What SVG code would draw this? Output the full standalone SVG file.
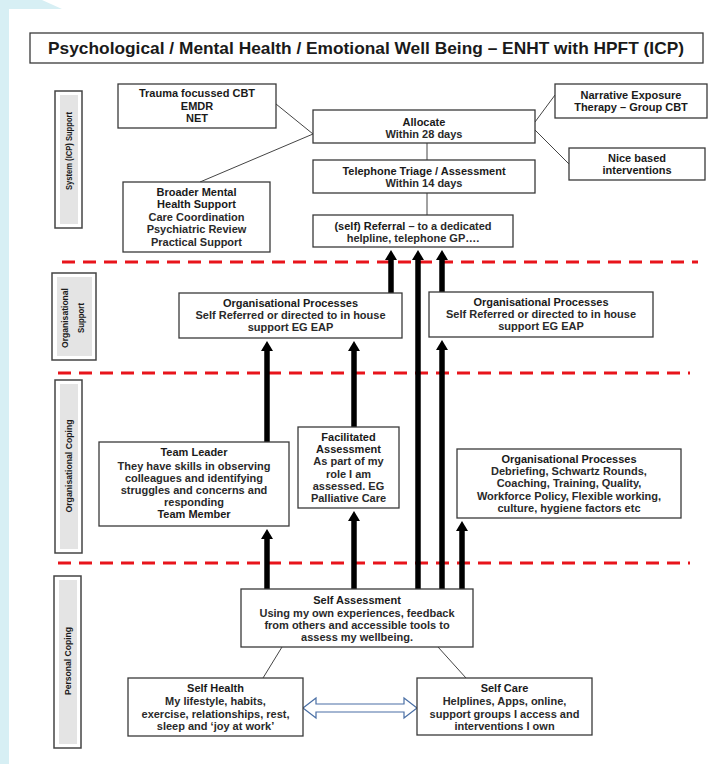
<svg xmlns="http://www.w3.org/2000/svg" width="714" height="764" viewBox="0 0 714 764">
<style>
text{font-family:"Liberation Sans",Arial,sans-serif;font-size:11px;font-weight:bold;fill:#1a1a1a;text-anchor:middle}
.n{fill:#2a2a2a}
.box{fill:#fff;stroke:#3a3a3a;stroke-width:1.3}
.lab{fill:#fff;stroke:#444;stroke-width:1.5}
.labin{fill:#e4e4e4;stroke:none}
.lt{font-weight:bold;font-size:9px}
.conn{stroke:#444;stroke-width:1;fill:none}
.dash{stroke:#e8141b;stroke-width:3;stroke-dasharray:13 8;fill:none}
.arr{stroke:#000;stroke-width:5.5;fill:none;marker-end:url(#ah)}
</style>
<defs>
<marker id="ah" markerUnits="userSpaceOnUse" markerWidth="14" markerHeight="12" viewBox="0 0 14 12" refX="4" refY="6" orient="auto">
<path d="M0,0 L10,6 L0,12 Z" fill="#000"/>
</marker>
</defs>
<rect width="714" height="764" fill="#fff"/>
<polygon points="0,0 42,0 62,9 9,9 9,764 0,764" fill="#d7eff4"/>

<g id="title">
<rect class="box" x="30" y="33" width="673" height="30"/>
<text x="366" y="54" style="font-size:16.5px" textLength="636" lengthAdjust="spacingAndGlyphs">Psychological / Mental Health / Emotional Well Being – ENHT with HPFT (ICP)</text>
</g>

<g id="lab-system">
<rect class="lab" x="55" y="91" width="27" height="137"/>
<rect class="labin" x="60" y="95" width="18" height="129"/>
<text class="lt" transform="translate(72,151) rotate(-90)" textLength="78" lengthAdjust="spacingAndGlyphs">System (ICP) Support</text>
</g>
<g id="lab-orgsupport">
<rect class="lab" x="52" y="273" width="44" height="87"/>
<rect class="labin" x="57" y="277" width="35" height="79"/>
<text class="lt" transform="translate(68,318) rotate(-90)" textLength="60" lengthAdjust="spacingAndGlyphs">Organisational</text>
<text class="lt" transform="translate(84,318) rotate(-90)" textLength="30" lengthAdjust="spacingAndGlyphs">Support</text>
</g>
<g id="lab-orgcoping">
<rect class="lab" x="55" y="380" width="27" height="173"/>
<rect class="labin" x="60" y="384" width="18" height="165"/>
<text class="lt" transform="translate(72,466) rotate(-90)" textLength="93" lengthAdjust="spacingAndGlyphs">Organisational Coping</text>
</g>
<g id="lab-personal">
<rect class="lab" x="54" y="576" width="27" height="172"/>
<rect class="labin" x="59" y="580" width="18" height="164"/>
<text class="lt" transform="translate(71,661) rotate(-90)" textLength="68" lengthAdjust="spacingAndGlyphs">Personal Coping</text>
</g>

<g id="dividers">
<line class="dash" x1="62" y1="262" x2="698" y2="262"/>
<line class="dash" x1="58" y1="373" x2="690" y2="373"/>
<line class="dash" x1="58" y1="563" x2="690" y2="563"/>
</g>

<g id="connectors">
<line class="conn" x1="276" y1="104" x2="313" y2="134"/>
<line class="conn" x1="313" y1="134" x2="200" y2="182"/>
<line class="conn" x1="535" y1="122" x2="555" y2="95"/>
<line class="conn" x1="535" y1="130" x2="569" y2="164"/>
<line class="conn" x1="427" y1="143" x2="427" y2="160"/>
<line class="conn" x1="427" y1="193" x2="427" y2="215"/>
<line class="conn" x1="282" y1="647" x2="263" y2="678"/>
<line class="conn" x1="438" y1="647" x2="466" y2="678"/>
<line class="arr" x1="391" y1="293" x2="391" y2="256"/>
<line class="arr" x1="418" y1="589" x2="418" y2="256"/>
<line class="arr" x1="442" y1="292" x2="442" y2="256"/>
<line class="arr" x1="267" y1="442" x2="267" y2="347"/>
<line class="arr" x1="354" y1="427" x2="354" y2="347"/>
<line class="arr" x1="442" y1="589" x2="442" y2="346"/>
<line class="arr" x1="267" y1="589" x2="267" y2="535"/>
<line class="arr" x1="354" y1="589" x2="354" y2="517"/>
<line class="arr" x1="462" y1="589" x2="462" y2="527"/>
<polygon points="303,708 316,698 316,704 404,704 404,698 417,708 404,718 404,712 316,712 316,718" fill="#fff" stroke="#4a6fa5" stroke-width="1.2"/>
</g>

<g id="trauma">
<rect class="box" x="118" y="84" width="158" height="44"/>
<text x="197" y="97">Trauma focussed CBT</text>
<text x="197" y="110">EMDR</text>
<text x="197" y="122">NET</text>
</g>
<g id="allocate">
<rect class="box" x="313" y="110" width="222" height="33"/>
<text x="424" y="126">Allocate</text>
<text class="n" x="424" y="138">Within 28 days</text>
</g>
<g id="narrative">
<rect class="box" x="555" y="84" width="152" height="34"/>
<text x="631" y="99">Narrative Exposure</text>
<text x="631" y="111">Therapy – Group CBT</text>
</g>
<g id="nice">
<rect class="box" x="569" y="148" width="136" height="32"/>
<text x="637" y="162">Nice based</text>
<text x="637" y="174">interventions</text>
</g>
<g id="telephone">
<rect class="box" x="313" y="160" width="222" height="33"/>
<text x="424" y="175">Telephone Triage / Assessment</text>
<text class="n" x="424" y="187">Within 14 days</text>
</g>
<g id="broader">
<rect class="box" x="123" y="182" width="147" height="70"/>
<text x="196.5" y="196">Broader Mental</text>
<text x="196.5" y="208">Health Support</text>
<text class="n" x="196.5" y="221">Care Coordination</text>
<text class="n" x="196.5" y="233">Psychiatric Review</text>
<text class="n" x="196.5" y="246">Practical Support</text>
</g>
<g id="referral">
<rect class="box" x="313" y="215" width="200" height="32"/>
<text x="413" y="230">(self) Referral <tspan class="n">– to a dedicated</tspan></text>
<text class="n" x="413" y="242">helpline, telephone GP….</text>
</g>
<g id="orgproc-left">
<rect class="box" x="179" y="293" width="223" height="45"/>
<text x="290.5" y="307">Organisational Processes</text>
<text class="n" x="290.5" y="319">Self Referred or directed to in house</text>
<text class="n" x="290.5" y="331">support EG EAP</text>
</g>
<g id="orgproc-right">
<rect class="box" x="429" y="292" width="224" height="45"/>
<text x="541" y="306">Organisational Processes</text>
<text class="n" x="541" y="318">Self Referred or directed to in house</text>
<text class="n" x="541" y="330">support EG EAP</text>
</g>
<g id="teamleader">
<rect class="box" x="99" y="442" width="190" height="84"/>
<text x="194" y="456">Team Leader</text>
<text class="n" x="194" y="470">They have skills in observing</text>
<text class="n" x="194" y="482">colleagues and identifying</text>
<text class="n" x="194" y="494">struggles and concerns and</text>
<text class="n" x="194" y="506">responding</text>
<text x="194" y="518">Team Member</text>
</g>
<g id="facilitated">
<rect class="box" x="298" y="427" width="101" height="81"/>
<text x="348.5" y="441">Facilitated</text>
<text x="348.5" y="453">Assessment</text>
<text class="n" x="348.5" y="465">As part of my</text>
<text class="n" x="348.5" y="478">role I am</text>
<text class="n" x="348.5" y="490">assessed. EG</text>
<text class="n" x="348.5" y="502">Palliative Care</text>
</g>
<g id="orgproc-coping">
<rect class="box" x="457" y="449" width="224" height="69"/>
<text x="569" y="463">Organisational Processes</text>
<text class="n" x="569" y="475">Debriefing, Schwartz Rounds,</text>
<text class="n" x="569" y="487">Coaching, Training, Quality,</text>
<text class="n" x="569" y="500">Workforce Policy, Flexible working,</text>
<text class="n" x="569" y="512">culture, hygiene factors etc</text>
</g>
<g id="selfassessment">
<rect class="box" x="241" y="589" width="232" height="58"/>
<text x="357" y="604">Self Assessment</text>
<text class="n" x="357" y="617">Using my own experiences, feedback</text>
<text class="n" x="357" y="629">from others and accessible tools to</text>
<text class="n" x="357" y="641">assess my wellbeing.</text>
</g>
<g id="selfhealth">
<rect class="box" x="128" y="678" width="175" height="58"/>
<text x="215.5" y="692">Self Health</text>
<text class="n" x="215.5" y="705">My lifestyle, habits,</text>
<text class="n" x="215.5" y="718">exercise, relationships, rest,</text>
<text class="n" x="215.5" y="730">sleep and ‘joy at work’</text>
</g>
<g id="selfcare">
<rect class="box" x="417" y="678" width="175" height="57"/>
<text x="504.5" y="692">Self Care</text>
<text class="n" x="504.5" y="705">Helplines, Apps, online,</text>
<text class="n" x="504.5" y="718">support groups I access and</text>
<text class="n" x="504.5" y="730">interventions I own</text>
</g>
</svg>
